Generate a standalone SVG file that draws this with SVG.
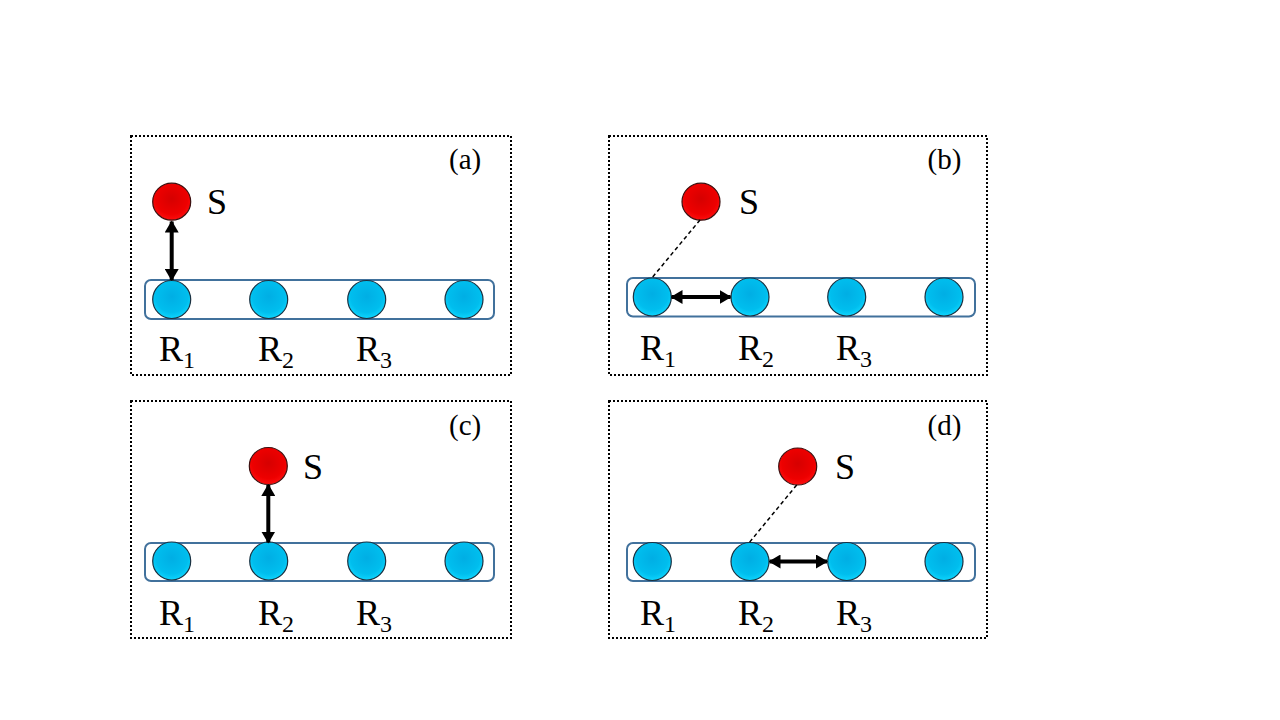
<svg xmlns="http://www.w3.org/2000/svg" width="1280" height="720" viewBox="0 0 1280 720">
<style>
.frame{fill:none;stroke:#000;stroke-width:2;stroke-dasharray:2 2}
.bar{fill:none;stroke:#41719C;stroke-width:2}
.s{fill:url(#gr);stroke:#3a1010;stroke-width:1.2}
.r{fill:url(#gb);stroke:#1a3040;stroke-width:1.2}
text{font-family:"Liberation Serif","Times New Roman","DejaVu Serif",serif;fill:#000}
.lab{font-size:36px}
.sub{font-size:24px}
.tag{font-size:29px}
.arr{stroke:#000;stroke-width:4;fill:none;marker-start:url(#ah);marker-end:url(#ah)}
.dash{stroke:#000;stroke-width:1.5;stroke-dasharray:4 3;fill:none}
</style>
<defs>
<radialGradient id="gr" cx="0.5" cy="0.42" r="0.6">
<stop offset="0" stop-color="#D60000"/>
<stop offset="0.7" stop-color="#EE0000"/>
<stop offset="1" stop-color="#FF1010"/>
</radialGradient>
<radialGradient id="gb" cx="0.5" cy="0.42" r="0.6">
<stop offset="0" stop-color="#00AEE4"/>
<stop offset="0.7" stop-color="#00BEEE"/>
<stop offset="1" stop-color="#10D8FF"/>
</radialGradient>
<marker id="ah" viewBox="0 0 12 14" refX="11" refY="7" markerWidth="12" markerHeight="14" markerUnits="userSpaceOnUse" orient="auto-start-reverse">
<path d="M0,0 L12,7 L0,14 z" fill="#000"/>
</marker>
</defs>

<g id="panel-a">
<rect class="frame" x="131" y="136" width="380" height="239"/>
<rect class="bar" x="145" y="280" width="349" height="39" rx="6"/>
<circle class="r" cx="171.7" cy="299.5" r="19"/>
<circle class="r" cx="268.7" cy="299.5" r="19"/>
<circle class="r" cx="366.7" cy="299.5" r="19"/>
<circle class="r" cx="464" cy="299.5" r="19"/>
<ellipse class="s" cx="171.7" cy="201.7" rx="19" ry="18.5"/>
<text class="lab" x="207" y="214">S</text>
<text class="tag" x="449" y="169">(a)</text>
<text class="lab" x="159" y="361">R<tspan class="sub" dy="7">1</tspan></text>
<text class="lab" x="258" y="361">R<tspan class="sub" dy="7">2</tspan></text>
<text class="lab" x="356" y="361">R<tspan class="sub" dy="7">3</tspan></text>
</g>

<g id="panel-b">
<rect class="frame" x="609" y="136" width="378" height="239"/>
<rect class="bar" x="627" y="278" width="348" height="38.5" rx="6"/>
<circle class="r" cx="652.3" cy="297" r="19"/>
<circle class="r" cx="750" cy="297" r="19"/>
<circle class="r" cx="846.7" cy="297" r="19"/>
<circle class="r" cx="944" cy="297" r="19"/>
<ellipse class="s" cx="701" cy="201.7" rx="19" ry="18.5"/>
<text class="lab" x="739" y="213.5">S</text>
<text class="tag" x="927.5" y="169">(b)</text>
<text class="lab" x="640" y="360">R<tspan class="sub" dy="7">1</tspan></text>
<text class="lab" x="738" y="360">R<tspan class="sub" dy="7">2</tspan></text>
<text class="lab" x="836" y="360">R<tspan class="sub" dy="7">3</tspan></text>
</g>

<g id="panel-c">
<rect class="frame" x="131" y="401" width="380" height="237"/>
<rect class="bar" x="145" y="543" width="349" height="38" rx="6"/>
<circle class="r" cx="171.7" cy="561" r="19"/>
<circle class="r" cx="268.7" cy="561" r="19"/>
<circle class="r" cx="366.7" cy="561" r="19"/>
<circle class="r" cx="464" cy="561" r="19"/>
<ellipse class="s" cx="268.3" cy="466" rx="19" ry="18.5"/>
<text class="lab" x="303" y="478.5">S</text>
<text class="tag" x="449" y="435">(c)</text>
<text class="lab" x="159" y="625">R<tspan class="sub" dy="7">1</tspan></text>
<text class="lab" x="258" y="625">R<tspan class="sub" dy="7">2</tspan></text>
<text class="lab" x="356" y="625">R<tspan class="sub" dy="7">3</tspan></text>
</g>

<g id="panel-d">
<rect class="frame" x="609" y="401" width="378" height="237"/>
<rect class="bar" x="627" y="543" width="348" height="38" rx="6"/>
<circle class="r" cx="652.3" cy="561.5" r="19"/>
<circle class="r" cx="750" cy="561.5" r="19"/>
<circle class="r" cx="846.7" cy="561.5" r="19"/>
<circle class="r" cx="944" cy="561.5" r="19"/>
<ellipse class="s" cx="797.7" cy="466.5" rx="19" ry="18.5"/>
<text class="lab" x="835" y="478.5">S</text>
<text class="tag" x="927.5" y="435">(d)</text>
<text class="lab" x="640" y="625">R<tspan class="sub" dy="7">1</tspan></text>
<text class="lab" x="738" y="625">R<tspan class="sub" dy="7">2</tspan></text>
<text class="lab" x="836" y="625">R<tspan class="sub" dy="7">3</tspan></text>
</g>

<g id="connectors">
<line class="arr" x1="171.7" y1="221.5" x2="171.7" y2="280"/>
<line class="dash" x1="700" y1="220" x2="651" y2="279"/>
<line class="arr" x1="671.5" y1="297" x2="730.5" y2="297"/>
<line class="arr" x1="268.3" y1="485" x2="268.3" y2="542.5"/>
<line class="dash" x1="796.7" y1="485" x2="748.5" y2="543.5"/>
<line class="arr" x1="769.5" y1="561.5" x2="827" y2="561.5"/>
</g>
</svg>
